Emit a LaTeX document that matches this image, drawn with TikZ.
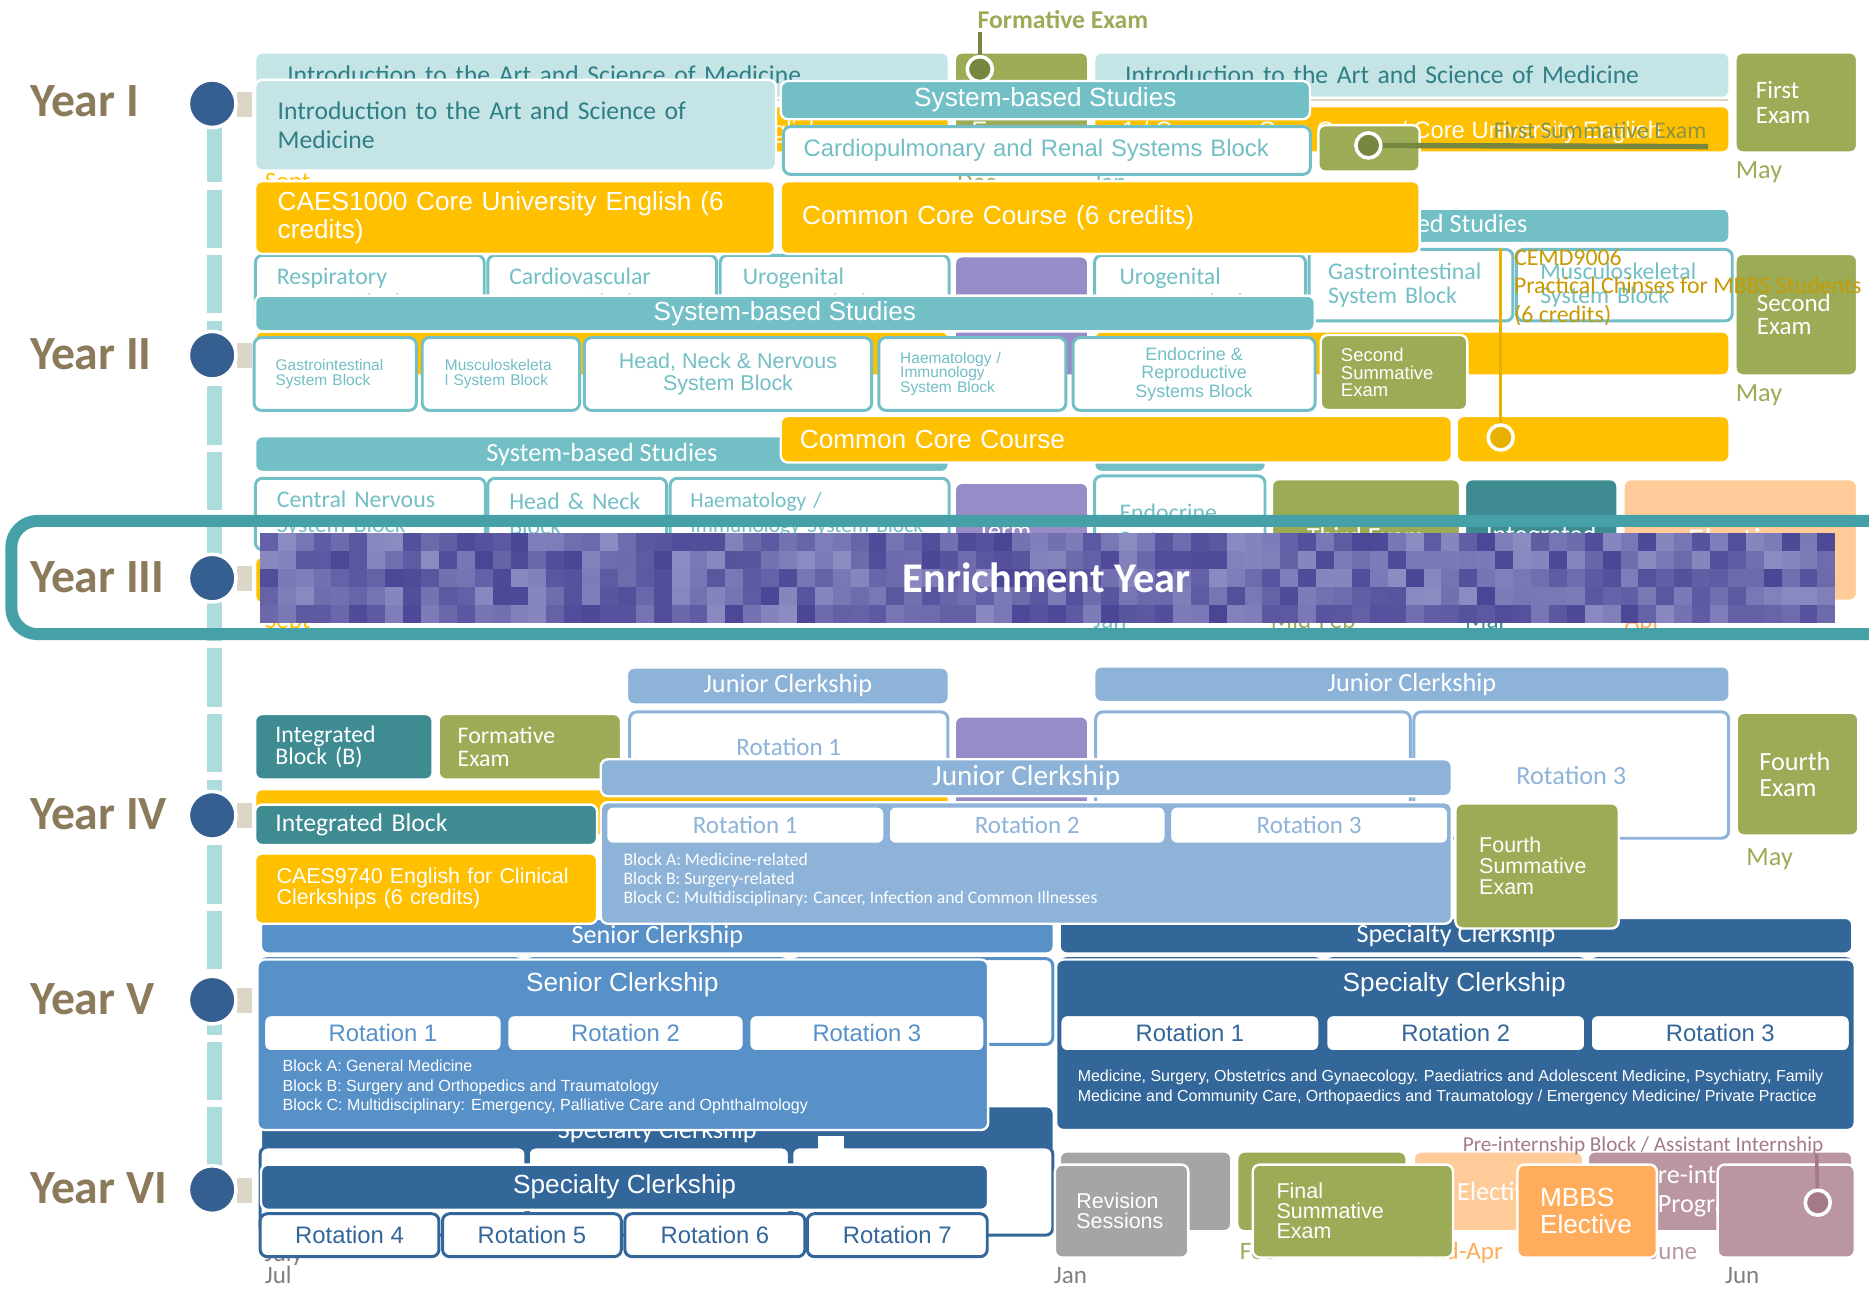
\documentclass[tikz,border=0pt]{standalone}
\usepackage{fontspec}
\setmainfont{Carlito}
\newfontfamily\ar{Liberation Sans}
\newfontfamily\ca{Carlito}
\usetikzlibrary{positioning}
\newcommand\fsz[2]{\fontsize{#1pt}{#2pt}\selectfont}

\definecolor{lteal}{HTML}{C4E4E6}
\definecolor{tealtxt}{HTML}{2F7F86}
\definecolor{tealbar}{HTML}{72BFC5}
\definecolor{yel}{HTML}{FFC000}
\definecolor{olive}{HTML}{9BAB56}
\definecolor{olivedk}{HTML}{76873F}
\definecolor{purp}{HTML}{978CC7}
\definecolor{dkteal}{HTML}{3E8B92}
\definecolor{peach}{HTML}{FFCC99}
\definecolor{ltblue}{HTML}{8EB3D9}
\definecolor{medblue}{HTML}{5890C8}
\definecolor{dkblue}{HTML}{336699}
\definecolor{dotblue}{HTML}{365F91}
\definecolor{yearbrown}{HTML}{8C7B5B}
\definecolor{gry}{HTML}{A5A5A5}
\definecolor{orng}{HTML}{FFAD5C}
\definecolor{mauve}{HTML}{BA97A0}
\definecolor{mauvedk}{HTML}{A57A88}
\definecolor{frameteal}{HTML}{46A0A7}
\definecolor{dashteal}{HTML}{ADDCDF}
\definecolor{gold}{HTML}{C79A05}
\definecolor{goldln}{HTML}{E8B100}
\definecolor{stubgray}{HTML}{DCD6C8}
\definecolor{mosA}{HTML}{4A4595}
\definecolor{mosB}{HTML}{8C8BC2}
\definecolor{fsumtxt}{HTML}{8A9443}
\definecolor{monthgray}{HTML}{808080}

\tikzset{
  blk/.style={rounded corners=6pt, draw=white, line width=2pt, inner sep=0pt, anchor=north west},
  cell/.style={blk, draw=#1, fill=white, line width=2.5pt},
  lbl/.style={anchor=base west, inner sep=0pt},
  yearlbl/.style={lbl, text=yearbrown, font=\ca\bfseries\fsz{40}{42}},
  yeardot/.style={circle, fill=dotblue, draw=white, line width=3pt, minimum size=40pt, inner sep=0pt},
  exammark/.style={circle, draw=white, line width=3pt, minimum size=21pt, inner sep=0pt},
}

\begin{document}
\begin{tikzpicture}[x=1pt, y=-1pt]
  \useasboundingbox (0,0) rectangle (1568,1081);
  \fill[white] (0,0) rectangle (1568,1081);
  \clip (0,0) rectangle (1568,1081);

  % ---------- back layer, year I
  \node[blk, fill=lteal, minimum width=582pt, minimum height=38pt, inner xsep=27pt, text width=528pt, align=left, text=tealtxt, font=\ca\fsz{21.5}{24}] (introA) at (213,43) {Introduction to the Art and Science of Medicine};
  \node[blk, fill=olive, minimum width=112pt, minimum height=84pt] (formbox) at (800,43) {};
  \node[lbl, text=white, font=\ar\fsz{20}{22}] (formexam) at (815,116) {Exam};
  \coordinate (formtop) at (822,27);
  \node[exammark, fill=olivedk] (formpin) at (822,58) {};
  \draw[olivedk, line width=3pt] (formtop) -- (formpin);
  \node[lbl, text=olive, font=\ca\bfseries\fsz{21.5}{24}] (formlbl) at (820,24) {Formative Exam};
  \node[blk, fill=lteal, minimum width=533pt, minimum height=38pt, inner xsep=26pt, text width=481pt, align=left, text=tealtxt, font=\ca\fsz{21.5}{24}] (introB) at (917,43) {Introduction to the Art and Science of Medicine};
  \node[blk, fill=olive, minimum width=102pt, minimum height=84pt, inner xsep=17pt, text width=68pt, align=left, text=white, font=\ca\fsz{21}{21.5}] (exam1) at (1455,43) {First\\Exam};
  \node[lbl, text=olive, font=\ca\fsz{22}{24}] (may1) at (1456,150) {May};
  \draw[stubgray, line width=2pt] (213,84) -- (1450,84);
  \node[blk, fill=yel, minimum width=582pt, minimum height=39pt] (caesA) at (213,88) {};
  \node[lbl, anchor=base east, text=white, font=\ar\fsz{20}{22}] (caesAtxt) at (690,116) {CAES1000 Core University English};
  \node[blk, fill=yel, minimum width=533pt, minimum height=39pt] (ccA) at (917,88) {};
  \node[lbl, text=white, font=\ar\fsz{20}{22}] (ccAtxt) at (941,116) {1 / Common Core Course / Core University English};
  \node[lbl, text=yel, font=\ca\fsz{21}{23}] (septA) at (222,159) {Sept};
  \node[lbl, text=olive, font=\ca\fsz{21}{23}] (decA) at (803,160) {Dec};
  \node[lbl, text=tealbar, font=\ca\fsz{21}{23}] (janA) at (917,160) {Jan};
  \node[blk, fill=tealbar, minimum width=533pt, minimum height=29pt, text=white, font=\ca\fsz{22}{24}] (sysA) at (917,174) {System-based Studies};

  % ---------- back layer, year II
  \node[cell=tealbar, minimum width=192pt, minimum height=60pt, inner xsep=18pt, text width=156pt, align=left, text=tealbar, font=\ca\fsz{20}{22}] (resp) at (213,213) {Respiratory\\System Block};
  \node[cell=tealbar, minimum width=192pt, minimum height=60pt, inner xsep=18pt, text width=156pt, align=left, text=tealbar, font=\ca\fsz{20}{22}] (cardv) at (408,213) {Cardiovascular\\System Block};
  \node[cell=tealbar, minimum width=192pt, minimum height=60pt, inner xsep=19pt, text width=154pt, align=left, text=tealbar, font=\ca\fsz{20}{22}] (urog) at (603,213) {Urogenital\\System Block};
  \node[blk, fill=purp, minimum width=112pt, minimum height=100pt] (purpA) at (800,214) {};
  \node[cell=tealbar, minimum width=177pt, minimum height=60pt, inner xsep=21pt, text width=135pt, align=left, text=tealbar, font=\ca\fsz{20}{22}] (urogB) at (917,213) {Urogenital\\System Block};
  \node[cell=tealbar, minimum width=171pt, minimum height=60pt, inner xsep=16pt, text width=139pt, align=left, text=tealbar, font=\ca\fsz{20}{20}] (gastB) at (1097,208) {Gastrointestinal\\System Block};
  \node[cell=tealbar, minimum width=181pt, minimum height=60pt, inner xsep=20pt, text width=141pt, align=left, text=tealbar, font=\ca\fsz{20}{20}] (muscB) at (1271,208) {Musculoskeletal\\System Block};
  \node[blk, fill=olive, minimum width=102pt, minimum height=102pt, inner xsep=18pt, text width=66pt, align=left, text=white, font=\ca\fsz{21}{19}] (exam2) at (1455,212) {Second\\Exam};
  \node[lbl, text=olive, font=\ca\fsz{22}{24}] (may2) at (1456,337) {May};
  \node[blk, fill=yel, minimum width=582pt, minimum height=37pt] (ccB) at (213,277) {};
  \node[blk, fill=yel, minimum width=533pt, minimum height=37pt] (ccC) at (917,277) {};

  % ---------- back layer, year III
  \node[blk, fill=tealbar, minimum width=582pt, minimum height=30pt, text=white, font=\ca\fsz{22}{24}] (sysC) at (213,365) {System-based Studies};
  \node[blk, fill=tealbar, minimum width=144pt, minimum height=30pt] (sysD) at (917,365) {};
  \node[cell=tealbar, minimum width=193pt, minimum height=60pt, inner xsep=18pt, text width=157pt, align=left, text=tealbar, font=\ca\fsz{20}{21}] (cns) at (213,400) {Central Nervous\\System Block};
  \node[cell=tealbar, minimum width=150pt, minimum height=60pt, inner xsep=18pt, text width=114pt, align=left, text=tealbar, font=\ca\fsz{20}{21}] (hnB) at (408,400) {Head \& Neck\\Block};
  \node[cell=tealbar, minimum width=234pt, minimum height=60pt, inner xsep=17pt, text width=200pt, align=left, text=tealbar, font=\ca\fsz{18}{21}] (haemB) at (561,400) {Haematology /\\Immunology System Block};
  \node[blk, fill=purp, minimum width=112pt, minimum height=80pt] (purpB) at (800,404) {};
  \node[lbl, text=white, font=\ca\fsz{22}{24}] (termB) at (820,453) {Term};
  \node[cell=tealbar, minimum width=143pt, minimum height=87pt, inner xsep=21pt, text width=101pt, align=left, text=tealbar, font=\ca\fsz{20}{22}] (endoB) at (917,398) {Endocrine\\System};
  \node[blk, fill=olive, minimum width=158pt, minimum height=96pt, text=white, font=\ca\fsz{22}{24}] (exam3) at (1066,401) {Third Exam};
  \node[blk, fill=dkteal, minimum width=128pt, minimum height=96pt, text=white, font=\ca\fsz{22}{24}] (intC) at (1228,401) {Integrated};
  \node[blk, fill=peach, minimum width=196pt, minimum height=102pt, text=white, font=\ca\fsz{28}{30}] (elecC) at (1361,401) {Elective};
  \node[blk, fill=yel, minimum width=200pt, minimum height=39pt] (yelC) at (213,466) {};
  \node[lbl, text=yel, font=\ca\fsz{21}{23}] (septC) at (222,527) {Sept};
  \node[lbl, text=tealbar, font=\ca\fsz{21}{23}] (janC) at (917,527) {Jan};
  \node[lbl, text=olive, font=\ca\fsz{21}{23}] (febC) at (1066,527) {Mid-Feb};
  \node[lbl, text=dkteal, font=\ca\fsz{21}{23}] (marC) at (1229,527) {Mar};
  \node[lbl, text=orng, font=\ca\fsz{21}{23}] (aprC) at (1363,527) {Apr};

  % ---------- back layer, year IV
  \node[blk, fill=ltblue, minimum width=270pt, minimum height=31pt, text=white, font=\ca\fsz{22}{24}] (junA) at (525,559) {Junior Clerkship};
  \node[blk, fill=ltblue, minimum width=533pt, minimum height=30pt, text=white, font=\ca\fsz{22}{24}] (junB) at (917,558) {Junior Clerkship};
  \node[cell=ltblue, minimum width=267pt, minimum height=58pt, text=ltblue, font=\ca\fsz{21}{23}] (rotA) at (527,596) {Rotation 1};
  \node[cell=ltblue, minimum width=264pt, minimum height=104pt] (rotB) at (918,596) {};
  \node[cell=ltblue, minimum width=264pt, minimum height=106pt, text=ltblue, font=\ca\fsz{22}{24}] (rotC) at (1185,596) {Rotation 3};
  \node[blk, fill=purp, minimum width=112pt, minimum height=100pt] (purpD) at (800,600) {};
  \node[blk, fill=dkteal, minimum width=149pt, minimum height=55pt, inner xsep=17pt, text width=115pt, align=left, text=white, font=\ca\fsz{20}{19}] (intB) at (213,598) {Integrated\\Block (B)};
  \node[blk, fill=olive, minimum width=153pt, minimum height=55pt, inner xsep=16pt, text width=121pt, align=left, text=white, font=\ca\fsz{20}{19}] (formB) at (367,598) {Formative\\Exam};
  \node[blk, fill=yel, minimum width=582pt, minimum height=39pt] (yelD) at (213,661) {};
  \node[blk, fill=olive, minimum width=102pt, minimum height=103pt, inner xsep=19pt, text width=64pt, align=left, text=white, font=\ca\fsz{22}{21.5}] (exam4) at (1456,597) {Fourth\\Exam};
  \node[lbl, text=olive, font=\ca\fsz{22}{24}] (may4) at (1465,726) {May};

  % ---------- back layer, years V and VI
  \node[blk, fill=medblue, minimum width=665pt, minimum height=29pt, text=white, font=\ca\fsz{22}{24}] (senB) at (218,770) {Senior Clerkship};
  \node[blk, fill=dkblue, minimum width=665pt, minimum height=30pt, text=white, font=\ca\fsz{22}{24}] (speB) at (888,769) {Specialty Clerkship};
  \node[cell=medblue, minimum width=220pt, minimum height=72pt, text=medblue, font=\ca\fsz{20}{22}] (srA) at (217,803) {Rotation 1};
  \node[cell=medblue, minimum width=220pt, minimum height=72pt, text=medblue, font=\ca\fsz{20}{22}] (srB) at (440,803) {Rotation 2};
  \node[cell=medblue, minimum width=219pt, minimum height=72pt, text=medblue, font=\ca\fsz{20}{22}] (srC) at (663,803) {Rotation 3};
  \node[cell=dkblue, minimum width=220pt, minimum height=72pt, text=dkblue, font=\ca\fsz{20}{22}] (spA) at (888,803) {Rotation 1};
  \node[cell=dkblue, minimum width=219pt, minimum height=72pt, text=dkblue, font=\ca\fsz{20}{22}] (spB) at (1111,803) {Rotation 2};
  \node[cell=dkblue, minimum width=220pt, minimum height=72pt, text=dkblue, font=\ca\fsz{20}{22}] (spC) at (1333,803) {Rotation 3};
  \node[blk, fill=dkblue, minimum width=665pt, minimum height=42pt, text=white, font=\ca\fsz{22}{24}] (speC) at (218,927) {Specialty Clerkship};
  \node[cell=dkblue, minimum width=223pt, minimum height=74pt] (vA) at (217,961) {};
  \node[cell=dkblue, minimum width=219pt, minimum height=74pt] (vB) at (442,961) {};
  \node[cell=dkblue, minimum width=219pt, minimum height=74pt] (vC) at (663,961) {};
  \fill[white] (686,953) rectangle (708,966);
  \node[blk, fill=gry, minimum width=144pt, minimum height=67pt] (revB) at (888,965) {};
  \node[blk, fill=olive, minimum width=142pt, minimum height=67pt] (finB) at (1037,965) {};
  \node[blk, fill=peach, minimum width=142pt, minimum height=67pt, text=white, font=\ca\fsz{22}{24}] (elecB) at (1185,965) {Elective};
  \node[blk, fill=mauve, minimum width=222pt, minimum height=67pt, align=center, text=white, font=\ca\fsz{22}{24}] (preB) at (1331,965) {Pre-internship\\Programme};
  \node[lbl, text=olive, font=\ca\fsz{21}{23}] (febE) at (1040,1057) {Feb};
  \node[lbl, anchor=base east, text=orng, font=\ca\fsz{21}{23}] (aprE) at (1261,1057) {Mid-Apr};
  \node[lbl, anchor=base east, text=mauve, font=\ca\fsz{21}{23}] (junE) at (1424,1057) {June};
  \node[lbl, text=mauvedk, font=\ca\fsz{17.8}{20}] (prelbl) at (1227,966) {Pre-internship Block / Assistant Internship};

  % ---------- front layer, year I
  \node[blk, fill=lteal, minimum width=437pt, minimum height=76pt, inner xsep=19pt, text width=399pt, align=left, text=tealtxt, font=\ca\fsz{21.5}{24}] (intro) at (213,66) {Introduction to the Art and Science of\\Medicine};
  \node[blk, fill=tealbar, minimum width=444pt, minimum height=32pt, text=white, font=\ar\fsz{22}{24}] (sysI) at (654,67) {System-based Studies};
  \node[cell=tealbar, minimum width=442pt, minimum height=40pt, inner xsep=17pt, text width=408pt, align=left, text=tealbar, font=\ar\fsz{20}{22}] (cardio) at (656,105) {Cardiopulmonary and Renal Systems Block};
  \node[blk, fill=olive, minimum width=85pt, minimum height=39pt] (fsumbox) at (1105,104) {};
  \coordinate (fsumend) at (1433,123);
  \node[exammark, fill=olivedk] (fsumpin) at (1148,122) {};
  \draw[olivedk, line width=4.5pt] (fsumpin) -- (fsumend);
  \node[lbl, text=fsumtxt, font=\ca\fsz{20}{22}] (fsumlbl) at (1253,116) {First Summative Exam};
  \node[blk, fill=yel, minimum width=436pt, minimum height=61pt, inner xsep=19pt, text width=398pt, align=left, text=white, font=\ar\fsz{22}{23}] (caes) at (213,151) {CAES1000 Core University English (6\\credits)};
  \node[blk, fill=yel, minimum width=536pt, minimum height=61pt, inner xsep=18pt, text width=500pt, align=left, text=white, font=\ar\fsz{22}{24}] (core) at (654,151) {Common Core Course (6 credits)};

  % ---------- front layer, year II
  \node[blk, fill=tealbar, minimum width=889pt, minimum height=30pt, text=white, font=\ar\fsz{22}{24}] (sysII) at (213,247) {System-based Studies};
  \node[cell=tealbar, minimum width=136pt, minimum height=61pt, inner xsep=18pt, text width=100pt, align=left, text=tealbar, font=\ar\fsz{13}{12.5}] (gastF) at (212,282) {Gastrointestinal\\System Block};
  \node[cell=tealbar, minimum width=132pt, minimum height=61pt, inner xsep=19pt, text width=94pt, align=left, text=tealbar, font=\ar\fsz{13}{12.5}] (muscF) at (353,282) {Musculoskeleta\\l System Block};
  \node[cell=tealbar, minimum width=241pt, minimum height=61pt, align=center, text=tealbar, font=\ar\fsz{18}{18}] (headF) at (489,282) {Head, Neck \& Nervous\\System Block};
  \node[cell=tealbar, minimum width=157pt, minimum height=61pt, inner xsep=18pt, text width=121pt, align=left, text=tealbar, font=\ar\fsz{13}{12.5}] (haemF) at (736,282) {Haematology /\\Immunology\\System Block};
  \node[cell=tealbar, minimum width=203pt, minimum height=61pt, align=center, text=tealbar, font=\ar\fsz{15}{15.5}] (endoF) at (899,282) {Endocrine \&\\Reproductive\\Systems Block};
  \node[blk, fill=olive, minimum width=123pt, minimum height=63pt, inner xsep=17pt, text width=89pt, align=left, text=white, font=\ar\fsz{15.5}{15}] (ssumF) at (1107,280) {Second\\Summative\\Exam};
  \node[blk, fill=yel, minimum width=563pt, minimum height=39pt, inner xsep=16pt, text width=531pt, align=left, text=white, font=\ar\fsz{22}{24}] (ccF) at (654,348) {Common Core Course};
  \node[blk, fill=yel, minimum width=229pt, minimum height=39pt] (ccG) at (1221,348) {};
  \coordinate (cemdtop) at (1259,208);
  \node[exammark, fill=goldln] (cemdpin) at (1259,367) {};
  \draw[goldln, line width=3pt] (cemdtop) -- (cemdpin);
  \node[anchor=west, inner sep=0pt, align=left, text=gold, font=\ca\fsz{20}{24}] (cemd) at (1270,241) {CEMD9006\\Practical Chinses for MBBS Students\\(6 credits)};

  % ---------- front layer, year IV
  \node[blk, fill=ltblue, minimum width=714pt, minimum height=31pt, text=white, font=\ca\fsz{24.5}{26}] (junF) at (503,636) {Junior Clerkship};
  \node[blk, fill=ltblue, minimum width=714pt, minimum height=102pt] (junBody) at (503,672) {};
  \node[cell=ltblue, minimum width=234pt, minimum height=32pt, text=ltblue, font=\ca\fsz{21}{23}] (jr1) at (507,675) {Rotation 1};
  \node[cell=ltblue, minimum width=233pt, minimum height=32pt, text=ltblue, font=\ca\fsz{21}{23}] (jr2) at (744,675) {Rotation 2};
  \node[cell=ltblue, minimum width=234pt, minimum height=32pt, text=ltblue, font=\ca\fsz{21}{23}] (jr3) at (980,675) {Rotation 3};
  \node[anchor=west, inner sep=0pt, align=left, text=white, font=\ca\fsz{14.8}{16}] (jrblocks) at (523,738) {Block A: Medicine-related\\Block B: Surgery-related\\Block C: Multidisciplinary: Cancer, Infection and Common Illnesses};
  \node[blk, fill=dkteal, minimum width=287pt, minimum height=34pt, inner xsep=17pt, text width=253pt, align=left, text=white, font=\ca\fsz{21.5}{23}] (intF) at (213,674) {Integrated Block};
  \node[blk, fill=yel, minimum width=287pt, minimum height=59pt, inner xsep=18pt, text width=251pt, align=left, text=white, font=\ar\fsz{18}{17.5}] (caesF) at (213,715) {CAES9740 English for Clinical\\Clerkships (6 credits)};
  \node[blk, fill=olive, minimum width=137pt, minimum height=105pt, inner xsep=20pt, text width=97pt, align=left, text=white, font=\ar\fsz{18}{17.5}] (fsum4) at (1220,673) {Fourth\\Summative\\Exam};

  % ---------- front layer, year V
  \node[blk, fill=medblue, minimum width=613pt, minimum height=143pt] (senF) at (215,804) {};
  \node[text=white, font=\ar\fsz{22}{24}] (sentitle) at (522,826) {Senior Clerkship};
  \node[cell=medblue, minimum width=200pt, minimum height=31pt, text=medblue, font=\ar\fsz{20}{22}] (sv1) at (220,850) {Rotation 1};
  \node[cell=medblue, minimum width=199pt, minimum height=31pt, text=medblue, font=\ar\fsz{20}{22}] (sv2) at (424,850) {Rotation 2};
  \node[cell=medblue, minimum width=198pt, minimum height=31pt, text=medblue, font=\ar\fsz{20}{22}] (sv3) at (627,850) {Rotation 3};
  \node[anchor=west, inner sep=0pt, align=left, text=white, font=\ar\fsz{13.5}{16.5}] (svblocks) at (237,912) {Block A: General Medicine\\Block B: Surgery and Orthopedics and Traumatology\\Block C: Multidisciplinary: Emergency, Palliative Care and Ophthalmology};
  \node[blk, fill=dkblue, minimum width=670pt, minimum height=143pt] (speF) at (885,804) {};
  \node[text=white, font=\ar\fsz{22}{24}] (spetitle) at (1220,826) {Specialty Clerkship};
  \node[cell=dkblue, minimum width=218pt, minimum height=31pt, text=dkblue, font=\ar\fsz{20}{22}] (pv1) at (888,850) {Rotation 1};
  \node[cell=dkblue, minimum width=218pt, minimum height=31pt, text=dkblue, font=\ar\fsz{20}{22}] (pv2) at (1111,850) {Rotation 2};
  \node[cell=dkblue, minimum width=218pt, minimum height=31pt, text=dkblue, font=\ar\fsz{20}{22}] (pv3) at (1333,850) {Rotation 3};
  \node[anchor=west, inner sep=0pt, align=left, text=white, font=\ar\fsz{13.4}{17}] (pvtext) at (904,912) {Medicine, Surgery, Obstetrics and Gynaecology. Paediatrics and Adolescent Medicine, Psychiatry, Family\\Medicine and Community Care, Orthopaedics and Traumatology / Emergency Medicine/ Private Practice};

  % ---------- front layer, year VI
  \node[lbl, text=monthgray, font=\ca\fsz{21}{23}] (julyA) at (222,1058) {July};
  \node[blk, fill=dkblue, minimum width=610pt, minimum height=38pt, text=white, font=\ar\fsz{22}{24}] (speVI) at (218,976) {Specialty Clerkship};
  \node[cell=dkblue, minimum width=150pt, minimum height=36pt, text=dkblue, font=\ar\fsz{20}{22}] (r4) at (217,1017) {Rotation 4};
  \node[cell=dkblue, minimum width=150pt, minimum height=36pt, text=dkblue, font=\ar\fsz{20}{22}] (r5) at (370,1017) {Rotation 5};
  \node[cell=dkblue, minimum width=151pt, minimum height=36pt, text=dkblue, font=\ar\fsz{20}{22}] (r6) at (523,1017) {Rotation 6};
  \node[cell=dkblue, minimum width=151pt, minimum height=36pt, text=dkblue, font=\ar\fsz{20}{22}] (r7) at (676,1017) {Rotation 7};
  \node[blk, fill=gry, minimum width=112pt, minimum height=78pt, inner xsep=18pt, text width=76pt, align=left, text=white, font=\ar\fsz{18}{17}] (revF) at (884,976) {Revision\\Sessions};
  \node[blk, fill=olive, minimum width=168pt, minimum height=78pt, inner xsep=20pt, text width=128pt, align=left, text=white, font=\ar\fsz{18}{17}] (finF) at (1050,976) {Final\\Summative\\Exam};
  \node[blk, fill=orng, minimum width=117pt, minimum height=78pt, inner xsep=19pt, text width=79pt, align=left, text=white, font=\ar\fsz{22}{22}] (mbbsF) at (1272,976) {MBBS\\Elective};
  \node[blk, fill=mauve, minimum width=115pt, minimum height=78pt] (preF) at (1440,976) {};
  \coordinate (pretop) at (1524,968);
  \node[exammark, fill=mauvedk] (prepin) at (1525,1009) {};
  \draw[mauvedk, line width=3pt] (pretop) -- (prepin);
  \node[lbl, text=monthgray, font=\ca\fsz{21}{23}] (julB) at (222,1077) {Jul};
  \node[lbl, text=monthgray, font=\ca\fsz{21}{23}] (janB) at (884,1077) {Jan};
  \node[lbl, text=monthgray, font=\ca\fsz{21}{23}] (junBl) at (1447,1077) {Jun};

  % ---------- timeline axis and enrichment year
  \coordinate (axtop) at (180,104);
  \coordinate (axbot) at (180,982);
  \draw[dashteal, line width=12pt, dash pattern=on 49pt off 6pt] (axtop) -- (axbot);
  \draw[frameteal, line width=10pt, rounded corners=22pt] (9.5,437) rectangle (1640,532);
  \pgfmathsetseed{17}
  \foreach \i in {0,...,87}{
    \foreach \j in {0,...,4}{
      \pgfmathrandominteger{\r}{0}{100}
      \fill[mosB!\r!mosA] ({218+15.02*\i},{447+15.2*\j}) rectangle ({218+15.02*(\i+1)},{447+15.2*(\j+1)});
    }
  }
  \node[text=white, font=\ca\bfseries\fsz{35.5}{38}] (enrich) at (878,485) {Enrichment Year};

  \foreach \yy in {87,298,485,684,839,998}{
    \fill[stubgray] (199,\yy-10) rectangle (211,\yy+11);
  }
  \node[yeardot] (dot1) at (178,87) {};
  \node[yeardot] (dot2) at (178,298) {};
  \node[yeardot] (dot3) at (178,485) {};
  \node[yeardot] (dot4) at (178,684) {};
  \node[yeardot] (dot5) at (178,839) {};
  \node[yeardot] (dot6) at (178,998) {};
  \node[yearlbl] (yr1) at (25,98) {Year I};
  \node[yearlbl] (yr2) at (25,310) {Year II};
  \node[yearlbl] (yr3) at (25,497) {Year III};
  \node[yearlbl] (yr4) at (25,696) {Year IV};
  \node[yearlbl] (yr5) at (25,851) {Year V};
  \node[yearlbl] (yr6) at (25,1010) {Year VI};
\end{tikzpicture}
\end{document}
